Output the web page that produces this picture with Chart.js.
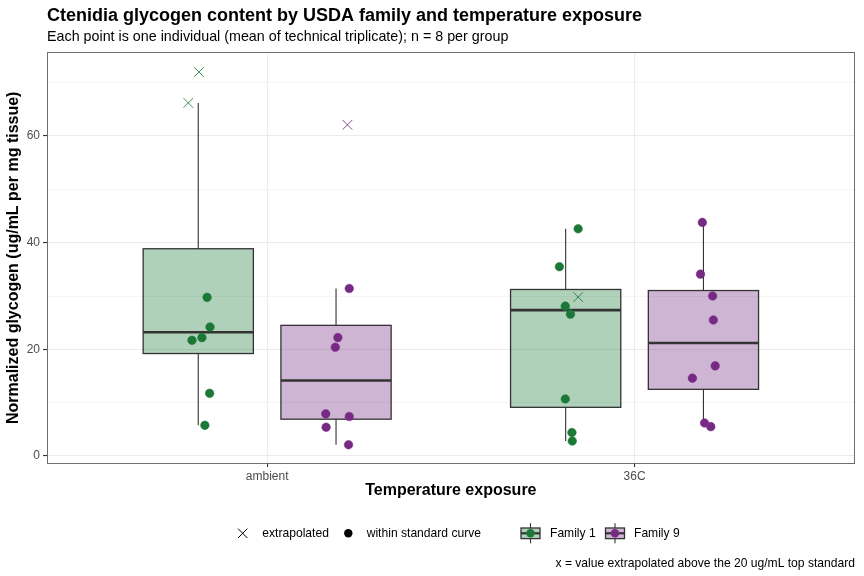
<!DOCTYPE html>
<html>
<head>
<meta charset="utf-8">
<script src="https://cdn.jsdelivr.net/npm/chart.js@4.4.0/dist/chart.umd.min.js"></script>
<style>
  html, body { margin: 0; padding: 0; background: #fff; }
  #wrap { width: 864px; height: 576px; }
</style>
</head>
<body>
<div id="wrap"><canvas id="chart" width="864" height="576"></canvas></div>
<script>
const FONT = "'Liberation Sans', Arial, Helvetica, sans-serif";
const GREEN = "#1b7837";
const PURPLE = "#762a83";

// ====== Data ======
const temperatures = ["ambient", "36C"];
const families = ["Family 1", "Family 9"];
const familyColors = [GREEN, PURPLE];
const familyFills = ["rgba(27,120,55,0.35)", "rgba(118,42,131,0.35)"];
const crossColors = ["rgba(27,120,55,0.85)", "rgba(118,42,131,0.85)"];
const yTicks = [0, 20, 40, 60];

// Family 1 - ambient
const f1AmbientValues = [72.0, 66.2, 29.75, 24.2, 22.2, 21.7, 11.75, 5.75];
const f1AmbientJitter = [0.002, -0.027, 0.024, 0.032, 0.010, -0.017, 0.031, 0.018];
const f1AmbientExtrap = [1, 1, 0, 0, 0, 0, 0, 0];
// Family 9 - ambient
const f9AmbientValues = [62.1, 31.4, 22.2, 20.4, 7.9, 7.4, 5.4, 2.1];
const f9AmbientJitter = [0.031, 0.036, 0.005, -0.002, -0.028, 0.036, -0.027, 0.034];
const f9AmbientExtrap = [1, 0, 0, 0, 0, 0, 0, 0];
// Family 1 - 36C
const f1HotValues = [42.6, 35.5, 29.8, 28.1, 26.6, 10.7, 4.4, 2.8];
const f1HotJitter = [0.034, -0.017, 0.034, -0.001, 0.013, -0.001, 0.017, 0.018];
const f1HotExtrap = [0, 0, 1, 0, 0, 0, 0, 0];
// Family 9 - 36C
const f9HotValues = [43.8, 34.1, 30.0, 25.5, 16.9, 14.6, 6.2, 5.5];
const f9HotJitter = [-0.003, -0.008, 0.025, 0.027, 0.032, -0.030, 0.003, 0.020];
const f9HotExtrap = [0, 0, 0, 0, 0, 0, 0, 0];

const groups = [
  { temp: 0, fam: 0, values: f1AmbientValues, jitter: f1AmbientJitter, extrap: f1AmbientExtrap },
  { temp: 0, fam: 1, values: f9AmbientValues, jitter: f9AmbientJitter, extrap: f9AmbientExtrap },
  { temp: 1, fam: 0, values: f1HotValues, jitter: f1HotJitter, extrap: f1HotExtrap },
  { temp: 1, fam: 1, values: f9HotValues, jitter: f9HotJitter, extrap: f9HotExtrap }
];

const DODGE = 0.1875;   // half of dodge width 0.75 / 2
const BOX_HALF = 0.15;  // box width 0.3

function groupX(g) {
  return g.temp + 1 + (g.fam === 0 ? -DODGE : DODGE);
}

// ====== Box statistics (quantile type 7, 1.5 IQR whiskers) ======
function quantile(sorted, p) {
  const h = (sorted.length - 1) * p;
  const lo = Math.floor(h);
  const hi = Math.min(lo + 1, sorted.length - 1);
  return sorted[lo] + (h - lo) * (sorted[hi] - sorted[lo]);
}
function boxStats(values) {
  const s = [...values].sort((a, b) => a - b);
  const q1 = quantile(s, 0.25), med = quantile(s, 0.5), q3 = quantile(s, 0.75);
  const iqr = q3 - q1;
  const hiW = Math.max(...s.filter(v => v <= q3 + 1.5 * iqr));
  const loW = Math.min(...s.filter(v => v >= q1 - 1.5 * iqr));
  return { q1, med, q3, hiW, loW };
}

// ====== Datasets ======
const datasets = [];
families.forEach((name, fam) => {
  const dots = [], crosses = [];
  groups.filter(g => g.fam === fam).forEach(g => {
    g.values.forEach((v, i) => {
      const pt = { x: groupX(g) + g.jitter[i], y: v };
      if (g.extrap[i]) crosses.push(pt); else dots.push(pt);
    });
  });
  datasets.push({
    label: name + " (within standard curve)",
    data: dots,
    pointStyle: "circle",
    pointRadius: 4.3,
    backgroundColor: familyColors[fam],
    borderColor: familyColors[fam],
    borderWidth: 0.5
  });
  datasets.push({
    label: name + " (extrapolated)",
    data: crosses,
    pointStyle: "crossRot",
    pointRadius: 6.8,
    backgroundColor: crossColors[fam],
    borderColor: crossColors[fam],
    borderWidth: 1
  });
});

// ====== Boxplot drawing plugin ======
const boxPlugin = {
  id: "boxes",
  beforeDatasetsDraw(chart) {
    const { ctx, scales: { x, y } } = chart;
    ctx.save();
    groups.forEach(g => {
      const st = boxStats(g.values);
      const cx = x.getPixelForValue(groupX(g));
      const l = x.getPixelForValue(groupX(g) - BOX_HALF);
      const r = x.getPixelForValue(groupX(g) + BOX_HALF);
      const yq1 = y.getPixelForValue(st.q1), yq3 = y.getPixelForValue(st.q3);
      // whiskers
      ctx.strokeStyle = "#333333";
      ctx.lineWidth = 1.1;
      ctx.beginPath();
      ctx.moveTo(cx, yq3); ctx.lineTo(cx, y.getPixelForValue(st.hiW));
      ctx.moveTo(cx, yq1); ctx.lineTo(cx, y.getPixelForValue(st.loW));
      ctx.stroke();
      // box
      ctx.fillStyle = familyFills[g.fam];
      ctx.fillRect(l, yq3, r - l, yq1 - yq3);
      ctx.lineWidth = 1.3;
      ctx.strokeRect(l, yq3, r - l, yq1 - yq3);
      // median
      ctx.lineWidth = 2.6;
      ctx.beginPath();
      const ym = y.getPixelForValue(st.med);
      ctx.moveTo(l, ym); ctx.lineTo(r, ym);
      ctx.stroke();
    });
    ctx.restore();
  }
};

// ====== Titles, legend, caption, panel border ======
const decorPlugin = {
  id: "decor",
  afterDraw(chart) {
    const { ctx, chartArea: a } = chart;
    ctx.save();
    // panel border
    ctx.strokeStyle = "#6e6e6e";
    ctx.lineWidth = 1;
    ctx.strokeRect(Math.round(a.left) + 0.5, Math.round(a.top) + 0.5,
      Math.round(a.right - a.left) - 1, Math.round(a.bottom - a.top));

    ctx.fillStyle = "#000";
    ctx.textAlign = "left";
    ctx.textBaseline = "alphabetic";
    ctx.font = "bold 18px " + FONT;
    ctx.fillText("Ctenidia glycogen content by USDA family and temperature exposure", 47, 20.7);
    ctx.font = "14.3px " + FONT;
    ctx.fillText("Each point is one individual (mean of technical triplicate); n = 8 per group", 47, 41);

    // legend
    const ly = 533.3;
    ctx.font = "12.1px " + FONT;
    ctx.textBaseline = "middle";
    ctx.strokeStyle = "#000";
    ctx.lineWidth = 1;
    ctx.beginPath();
    ctx.moveTo(242.7 - 4.7, ly - 4.7); ctx.lineTo(242.7 + 4.7, ly + 4.7);
    ctx.moveTo(242.7 + 4.7, ly - 4.7); ctx.lineTo(242.7 - 4.7, ly + 4.7);
    ctx.stroke();
    ctx.fillText("extrapolated", 262.3, ly);
    ctx.beginPath();
    ctx.arc(348.3, ly, 4.2, 0, Math.PI * 2);
    ctx.fill();
    ctx.fillText("within standard curve", 366.7, ly);

    const keys = [530.5, 615];
    const labelsX = [550, 634];
    families.forEach((name, fam) => {
      const kx = keys[fam];
      ctx.strokeStyle = "#333333";
      ctx.lineWidth = 1.1;
      ctx.beginPath();
      ctx.moveTo(kx, ly - 10); ctx.lineTo(kx, ly - 5.3);
      ctx.moveTo(kx, ly + 5.3); ctx.lineTo(kx, ly + 10);
      ctx.stroke();
      ctx.fillStyle = familyFills[fam];
      ctx.fillRect(kx - 9.5, ly - 5.3, 19, 10.6);
      ctx.lineWidth = 1.3;
      ctx.strokeRect(kx - 9.5, ly - 5.3, 19, 10.6);
      ctx.lineWidth = 2.2;
      ctx.beginPath();
      ctx.moveTo(kx - 9.5, ly); ctx.lineTo(kx + 9.5, ly);
      ctx.stroke();
      ctx.fillStyle = familyColors[fam];
      ctx.beginPath();
      ctx.arc(kx, ly, 4.2, 0, Math.PI * 2);
      ctx.fill();
      ctx.fillStyle = "#000";
      ctx.fillText(name, labelsX[fam], ly);
    });

    // caption
    ctx.textAlign = "right";
    ctx.fillText("x = value extrapolated above the 20 ug/mL top standard", 855, 563.7);
    ctx.restore();
  }
};

// ====== Chart ======
const isMajor = v => v % 20 === 0;
new Chart(document.getElementById("chart"), {
  type: "scatter",
  data: { datasets },
  plugins: [boxPlugin, decorPlugin],
  options: {
    responsive: false,
    animation: false,
    events: [],
    layout: { padding: { top: 52.3, right: 9, bottom: 75.7, left: 0 } },
    plugins: { legend: { display: false }, tooltip: { enabled: false }, title: { display: false } },
    scales: {
      x: {
        type: "linear",
        min: 0.4, max: 2.6,
        afterBuildTicks: s => { s.ticks = temperatures.map((t, i) => ({ value: i + 1 })); },
        afterFit: s => { s.height = 37; },
        ticks: {
          callback: v => temperatures[v - 1],
          font: { family: FONT, size: 12 },
          color: "#4d4d4d",
          padding: 2,
          maxRotation: 0,
          autoSkip: false
        },
        grid: { color: "#ebebeb", lineWidth: 1.1, tickColor: "#333333", tickLength: 3.7 },
        border: { display: false },
        title: {
          display: true,
          text: "Temperature exposure",
          font: { family: FONT, size: 16, weight: "bold" },
          color: "#000",
          padding: { top: 0, bottom: 0 }
        }
      },
      y: {
        min: -1.37, max: 75.7,
        afterBuildTicks: s => {
          s.ticks = [0, 10, 20, 30, 40, 50, 60, 70].map(v => ({ value: v }));
        },
        afterFit: s => { s.width = 46.7; },
        ticks: {
          callback: v => yTicks.includes(v) ? String(v) : "",
          font: { family: FONT, size: 12 },
          color: "#4d4d4d",
          padding: 3
        },
        grid: {
          color: c => isMajor(c.tick.value) ? "#ebebeb" : "#f2f2f2",
          lineWidth: c => isMajor(c.tick.value) ? 1.1 : 0.8,
          tickColor: c => isMajor(c.tick.value) ? "#333333" : "rgba(0,0,0,0)",
          tickLength: 3.7
        },
        border: { display: false },
        title: {
          display: true,
          text: "Normalized glycogen (ug/mL per mg tissue)",
          font: { family: FONT, size: 16, weight: "bold" },
          color: "#000",
          padding: { top: 4.4, bottom: 0 }
        }
      }
    }
  }
});
</script>
</body>
</html>
